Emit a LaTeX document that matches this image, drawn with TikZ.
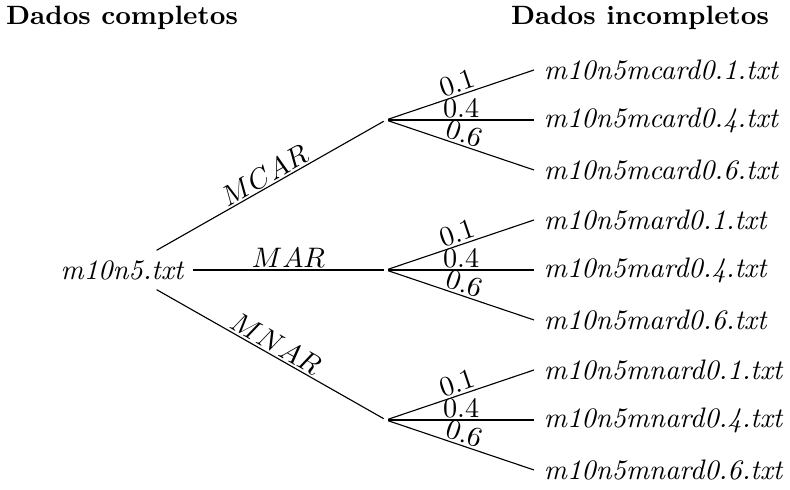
\documentclass[tikz,border=0pt]{standalone}
\begin{document}
\begin{tikzpicture}[x=0.3546pt,y=0.3546pt,
  file/.style={inner sep=3.33pt,font=\itshape},
  leaf/.style={file,anchor=west},
  junction/.style={inner sep=0pt,minimum size=1.2pt},
  header/.style={font=\fontsize{9.4}{11}\selectfont\bfseries,anchor=base},
  rate/.style={midway,above,sloped,inner sep=0.6pt},
  mech/.style={midway,above,sloped,inner sep=0.6pt}]
\useasboundingbox (0,0) rectangle (790,490);

% column titles
\node[header] (hc) at (122,465) {Dados completos};
\node[header] (hi) at (640,465) {Dados incompletos};

% complete data file
\node[file] (root) at (122,220) {m10n5.txt};

% branching points for each missingness mechanism
\node[junction] (jmcar) at (386,370) {};
\node[junction] (jmar)  at (386,220) {};
\node[junction] (jmnar) at (386,70)  {};

% incomplete data files
\node[leaf] (c1) at (534,420) {m10n5mcard0.1.txt};
\node[leaf] (c4) at (534,370) {m10n5mcard0.4.txt};
\node[leaf] (c6) at (534,320) {m10n5mcard0.6.txt};
\node[leaf] (a1) at (534,270) {m10n5mard0.1.txt};
\node[leaf] (a4) at (534,220) {m10n5mard0.4.txt};
\node[leaf] (a6) at (534,170) {m10n5mard0.6.txt};
\node[leaf] (n1) at (534,120) {m10n5mnard0.1.txt};
\node[leaf] (n4) at (534,70)  {m10n5mnard0.4.txt};
\node[leaf] (n6) at (534,20)  {m10n5mnard0.6.txt};

% mechanisms
\draw (root) -- node[mech] {$MCAR$} (jmcar);
\draw (root) -- node[mech] {$MAR$}  (jmar);
\draw (root) -- node[mech] {$MNAR$} (jmnar);

% missing rates
\draw (jmcar) -- node[rate] {0.1} (c1.west);
\draw (jmcar) -- node[rate] {0.4} (c4.west);
\draw (jmcar) -- node[rate] {0.6} (c6.west);
\draw (jmar)  -- node[rate] {0.1} (a1.west);
\draw (jmar)  -- node[rate] {0.4} (a4.west);
\draw (jmar)  -- node[rate] {0.6} (a6.west);
\draw (jmnar) -- node[rate] {0.1} (n1.west);
\draw (jmnar) -- node[rate] {0.4} (n4.west);
\draw (jmnar) -- node[rate] {0.6} (n6.west);
\end{tikzpicture}
\end{document}
